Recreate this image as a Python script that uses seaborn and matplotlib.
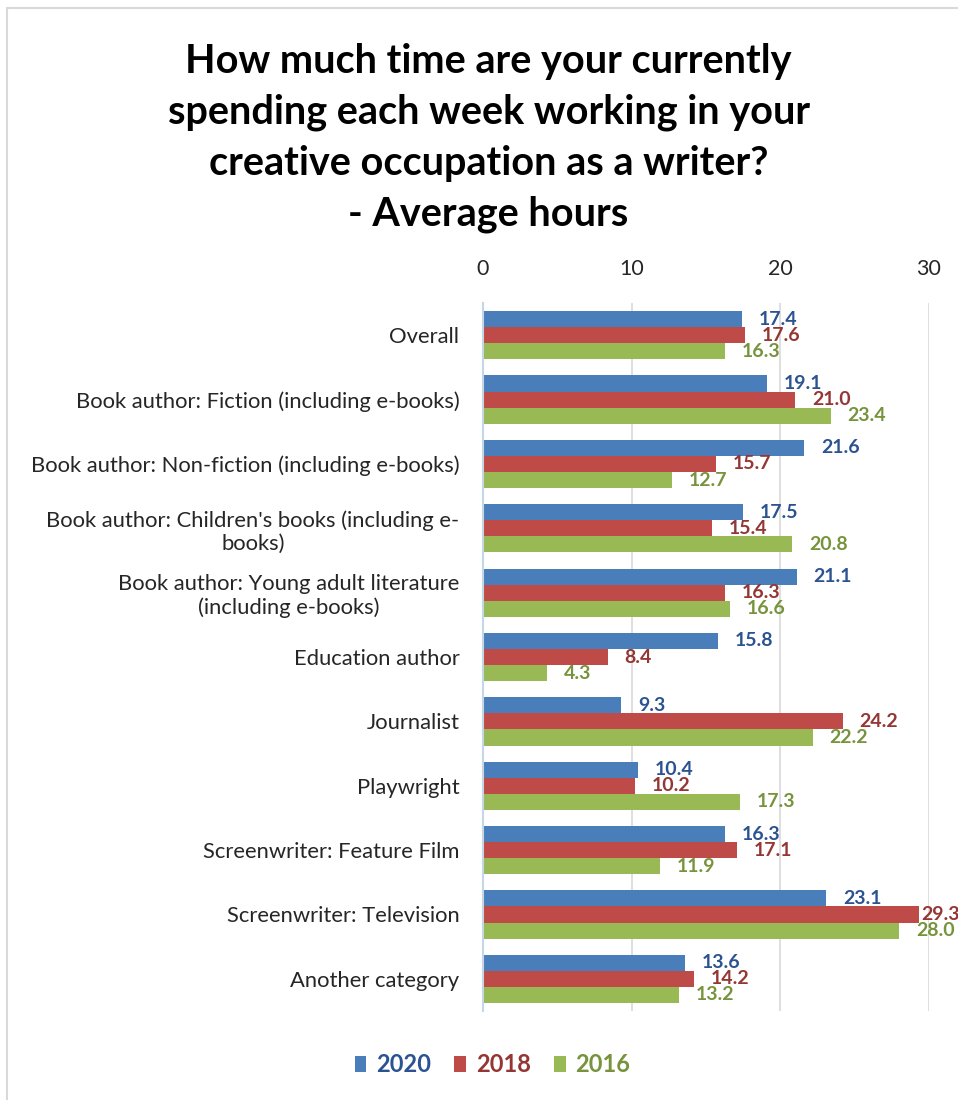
import matplotlib
matplotlib.use("Agg")
import matplotlib.pyplot as plt
from matplotlib.lines import Line2D
import pandas as pd
import seaborn as sns

categories = [
    "Overall",
    "Book author: Fiction (including e-books)",
    "Book author: Non-fiction (including e-books)",
    "Book author: Children's books (including e-\nbooks)",
    "Book author: Young adult literature\n(including e-books)",
    "Education author",
    "Journalist",
    "Playwright",
    "Screenwriter: Feature Film",
    "Screenwriter: Television",
    "Another category",
]
years = ["2020", "2018", "2016"]
hours_2020 = [17.4, 19.1, 21.6, 17.5, 21.1, 15.8, 9.3, 10.4, 16.3, 23.1, 13.6]
hours_2018 = [17.6, 21.0, 15.7, 15.4, 16.3, 8.4, 24.2, 10.2, 17.1, 29.3, 14.2]
hours_2016 = [16.3, 23.4, 12.7, 20.8, 16.6, 4.3, 22.2, 17.3, 11.9, 28.0, 13.2]

bar_colors = ["#4A7EBB", "#BE4B48", "#98B954"]
label_colors = ["#2C5391", "#943634", "#77933C"]

df = pd.DataFrame({
    "category": categories * 3,
    "year": [y for y in years for _ in categories],
    "hours": hours_2020 + hours_2018 + hours_2016,
})

sns.set_style("white")
plt.rcParams["font.family"] = ["Lato", "DejaVu Sans"]

fig = plt.figure(figsize=(9.58, 11), dpi=100)
ax = fig.add_axes([0.5042, 0.0809, 0.4655, 0.6436])

sns.barplot(data=df, y="category", x="hours", hue="year", orient="h",
            palette=bar_colors, saturation=1, width=0.75, ax=ax, legend=True,
            edgecolor="none", linewidth=0)

# labels hug the bar when it runs near the right edge (as Excel does)
for cont, col in zip(ax.containers, label_colors):
    anns = ax.bar_label(cont, fmt="%.1f", padding=12, color=col, fontsize=14,
                        fontweight="bold", clip_on=False)
    for ann, v in zip(anns, cont.datavalues):
        if v > 29:
            ann.xyann = (2, 0)

ax.set_xlim(0, 30)
ax.set_ylim(10.5, -0.5)
ax.set_xticks([0, 10, 20, 30])
ax.xaxis.tick_top()
ax.tick_params(axis="x", length=0, pad=17, labelsize=15.5, labelcolor="#262626")
ax.tick_params(axis="y", length=0, pad=17, labelsize=15.8, labelcolor="#262626")
for t in ax.get_yticklabels():
    t.set_multialignment("center")
ax.set_xlabel("")
ax.set_ylabel("")
ax.grid(axis="x", color="#D9D9D9", linewidth=1.2)
ax.set_axisbelow(True)
for s in ["top", "right", "bottom"]:
    ax.spines[s].set_visible(False)
ax.spines["left"].set_color("#C5D5EA")
ax.spines["left"].set_linewidth(1.5)

handles, labels = ax.get_legend_handles_labels()
ax.get_legend().remove()
leg = fig.legend(handles, labels, loc="center", bbox_to_anchor=(0.514, 0.032),
                 ncol=3, frameon=False, handlelength=0.5,
                 handleheight=0.65, handletextpad=0.4, columnspacing=1.0,
                 labelcolor=label_colors, prop={"weight": "bold", "size": 17})

fig.text(0.510, 0.961,
         "How much time are your currently\nspending each week working in your\n"
         "creative occupation as a writer?\n- Average hours",
         ha="center", va="top", fontsize=28.5, fontweight="bold",
         linespacing=1.46, color="black")

# chart frame edges
fig.add_artist(Line2D([7 / 958, 7 / 958], [0, 1 - 8 / 1100],
                      transform=fig.transFigure, color="#D9D9D9", lw=1.5))
fig.add_artist(Line2D([7 / 958, 1], [1 - 8 / 1100, 1 - 8 / 1100],
                      transform=fig.transFigure, color="#D9D9D9", lw=1.5))

fig.savefig("out.png", dpi=100, facecolor="white")
